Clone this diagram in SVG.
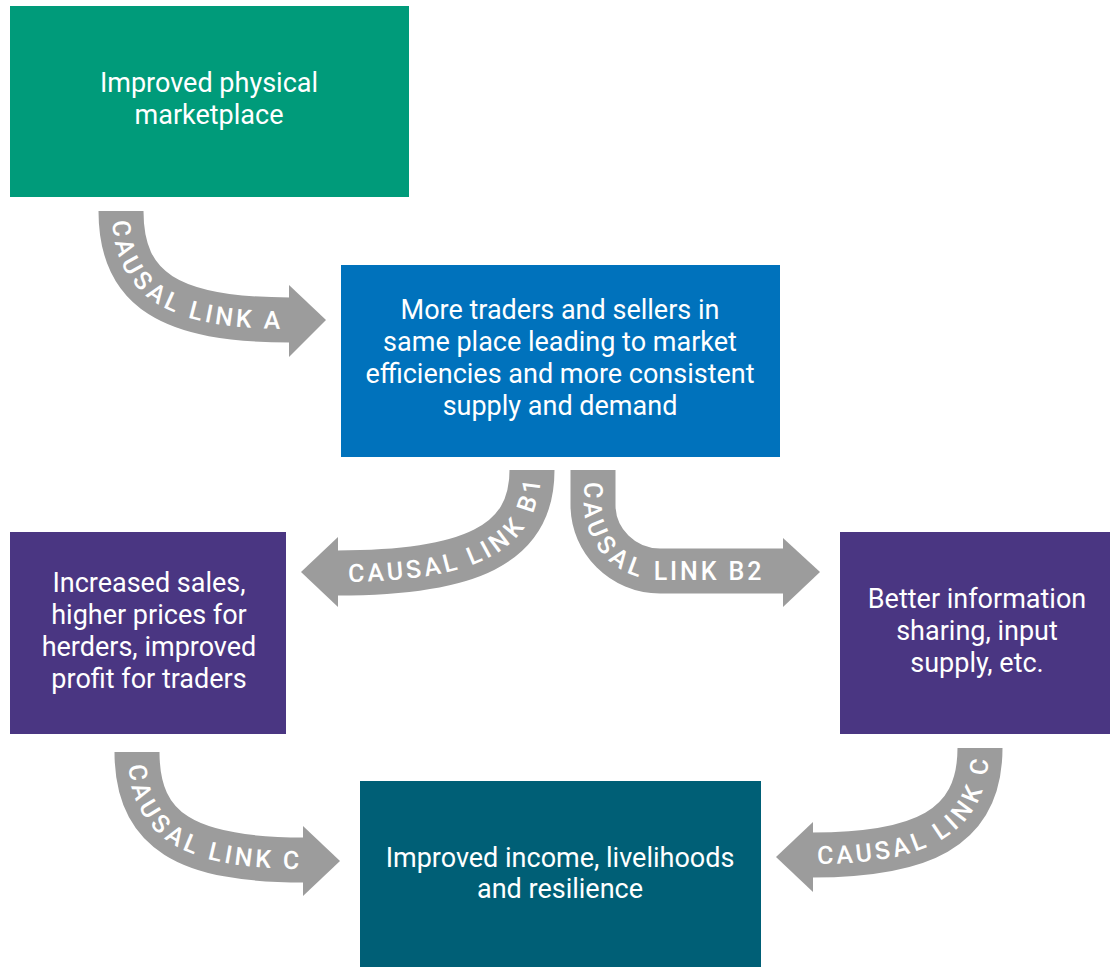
<svg xmlns="http://www.w3.org/2000/svg" width="1110" height="967" viewBox="0 0 1110 967">
<style>
.box-text{font-family:Roboto,"Liberation Sans",Arial,sans-serif;font-size:27px;fill:#ffffff;text-anchor:middle}
.shaft{fill:none;stroke:#9c9c9c;stroke-width:45;stroke-linecap:butt}
.head{fill:#9c9c9c}
.lbl{font-family:Roboto,"Liberation Sans",Arial,sans-serif;font-size:25px;font-weight:500;fill:#ffffff;letter-spacing:2.9px}
</style>
<defs>
<path id="tpA" d="M121,211 C121,290 170,320 289,320"/>
<path id="tpB1" d="M338,573 C470,573 532,545 532,470"/>
<path id="tpB2" d="M593,470 L593,505 C593,541 623,571 660,571 L783,571"/>
<path id="tpCL" d="M137,752 C137,831 186,860 303,860"/>
<path id="tpCR" d="M813,855 C920,855 980,830 980,748"/>
</defs>
<rect width="1110" height="967" fill="#ffffff"/>
<g id="connectors">
<g id="link-a">
<path class="shaft" d="M121,211 C121,290 170,320 290,320"/>
<polygon class="head" points="289,285 326,320 289,357"/>
<text class="lbl" dy="9"><textPath href="#tpA" startOffset="9">CAUSAL LINK A</textPath></text>
</g>
<g id="link-b1">
<path class="shaft" d="M532,470 C532,545 470,573 337,573"/>
<polygon class="head" points="338,537 301,572 338,607"/>
<text class="lbl" dy="9"><textPath href="#tpB1" startOffset="10">CAUSAL LINK B1</textPath></text>
</g>
<g id="link-b2">
<path class="shaft" d="M593,470 L593,505 C593,541 623,571 660,571 L784,571"/>
<polygon class="head" points="783,538 820,572 783,607"/>
<text class="lbl" dy="9"><textPath href="#tpB2" startOffset="12">CAUSAL LINK B2</textPath></text>
</g>
<g id="link-c-left">
<path class="shaft" d="M137,752 C137,831 186,860 304,860"/>
<polygon class="head" points="303,826 340,861 303,896"/>
<text class="lbl" dy="9"><textPath href="#tpCL" startOffset="12">CAUSAL LINK C</textPath></text>
</g>
<g id="link-c-right">
<path class="shaft" d="M980,748 C980,830 920,855 812,855"/>
<polygon class="head" points="813,822 776,857 813,892"/>
<text class="lbl" dy="9"><textPath href="#tpCR" startOffset="4">CAUSAL LINK C</textPath></text>
</g>
</g>
<g id="node-marketplace">
<rect x="10" y="6" width="399" height="191" fill="#009b7a"/>
<text class="box-text"><tspan x="209" y="92">Improved physical</tspan><tspan x="209" y="124">marketplace</tspan></text>
</g>
<g id="node-traders">
<rect x="341" y="265" width="439" height="192" fill="#0072bc"/>
<text class="box-text"><tspan x="560" y="319">More traders and sellers in</tspan><tspan x="560" y="351">same place leading to market</tspan><tspan x="560" y="383">efficiencies and more consistent</tspan><tspan x="560" y="415">supply and demand</tspan></text>
</g>
<g id="node-sales">
<rect x="10" y="532" width="276" height="202" fill="#4a3682"/>
<text class="box-text"><tspan x="149" y="592">Increased sales,</tspan><tspan x="149" y="624">higher prices for</tspan><tspan x="149" y="656">herders, improved</tspan><tspan x="149" y="688">profit for traders</tspan></text>
</g>
<g id="node-information">
<rect x="840" y="532" width="270" height="202" fill="#4a3682"/>
<text class="box-text"><tspan x="977" y="608">Better information</tspan><tspan x="977" y="640">sharing, input</tspan><tspan x="977" y="672">supply, etc.</tspan></text>
</g>
<g id="node-income">
<rect x="360" y="781" width="401" height="186" fill="#005f76"/>
<text class="box-text"><tspan x="560" y="867">Improved income, livelihoods</tspan><tspan x="560" y="898">and resilience</tspan></text>
</g>
</svg>
